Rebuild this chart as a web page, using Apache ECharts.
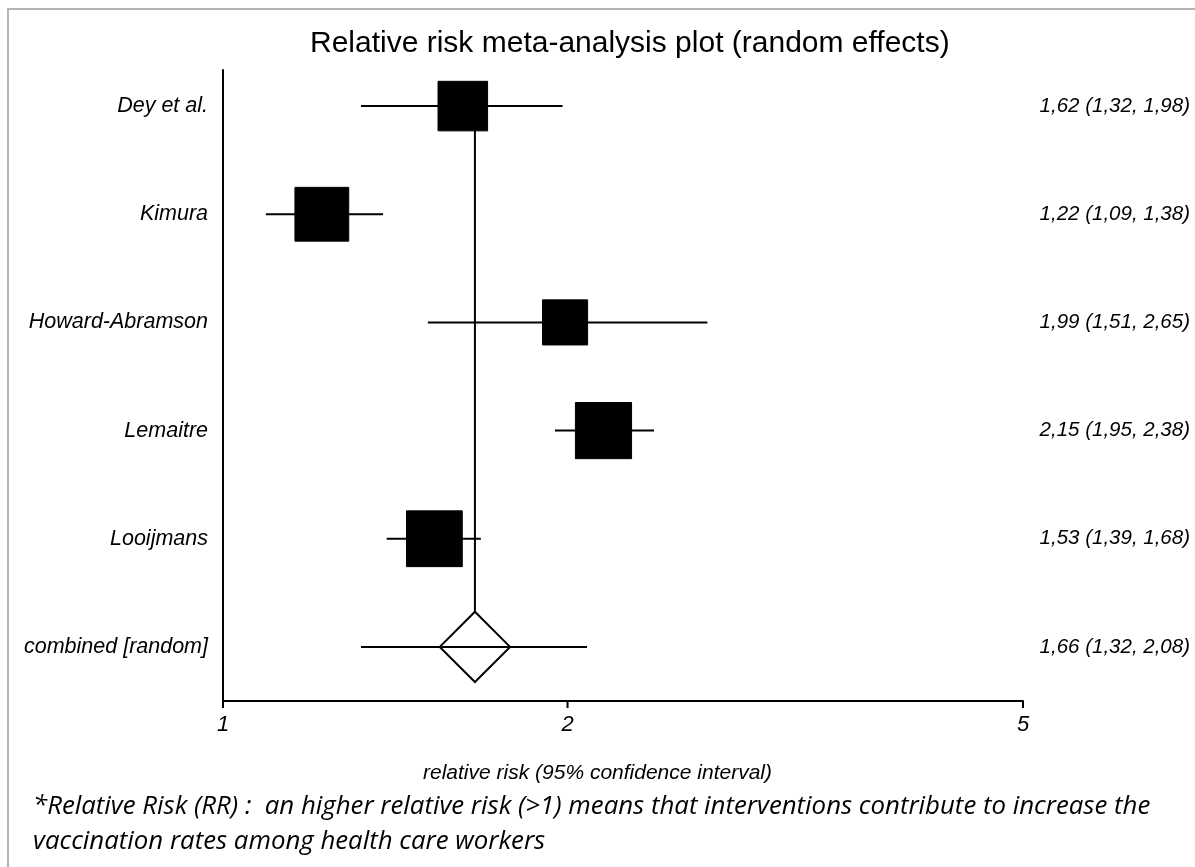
<!DOCTYPE html>
<html>
<head>
<meta charset="utf-8">
<script src="https://cdn.jsdelivr.net/npm/echarts@6/dist/echarts.min.js"></script>
<style>
  html, body { margin: 0; padding: 0; background: #fff; }
  #forestPlot { width: 1195px; height: 867px; }
</style>
</head>
<body>
<div id="forestPlot"></div>
<script>
// study data
var studyNames = ['Dey et al.', 'Kimura', 'Howard-Abramson', 'Lemaitre', 'Looijmans', 'combined [random]'];
var rrValues = [1.62, 1.22, 1.99, 2.15, 1.53, 1.66];
var ciLower = [1.32, 1.09, 1.51, 1.95, 1.39, 1.32];
var ciUpper = [1.98, 1.38, 2.65, 2.38, 1.68, 2.08];
// relative weights (%) - size of the squares, null for the pooled row
var studyWeights = [18.0, 21.2, 14.9, 23.1, 22.8, null];
var tickValues = [1, 2, 5];

var helv = '"Liberation Sans", Arial, Helvetica, sans-serif';

function fmt(v) {
	return v.toFixed(2).replace('.', ',');
}

var ciLabels = [];
var rowData = [];
for (var i = 0; i < studyNames.length; i++) {
	ciLabels.push(fmt(rrValues[i]) + ' (' + fmt(ciLower[i]) + ', ' + fmt(ciUpper[i]) + ')');
	rowData.push([i, rrValues[i], ciLower[i], ciUpper[i], studyWeights[i]]);
}

var myChart = echarts.init(document.getElementById('forestPlot'));

function renderRow(params, api) {
	var row = api.value(0);
	var mid = api.coord([api.value(1), row]);
	var lo = api.coord([api.value(2), row]);
	var hi = api.coord([api.value(3), row]);
	var band = api.size([1, 1])[1];
	var w = api.value(4);
	var children = [];
	var ciLine = {
		type: 'line',
		shape: { x1: lo[0], y1: mid[1], x2: hi[0], y2: mid[1] },
		style: { stroke: '#000', lineWidth: 2 }
	};
	if (w != null && !isNaN(w)) {
		var side = Math.sqrt(w / 100) * band * 1.08;
		children.push(ciLine);
		children.push({
			type: 'rect',
			shape: { x: mid[0] - side / 2, y: mid[1] - side / 2, width: side, height: side },
			style: { fill: '#000', stroke: '#000', lineWidth: 1 }
		});
	} else {
		var half = band * 0.325;
		var cs = params.coordSys;
		var firstRowY = api.coord([1, 0])[1];
		var axisTop = firstRowY - band * 0.34;
		// vertical line at the pooled estimate (behind the boxes)
		children.push({
			type: 'line',
			shape: { x1: mid[0], y1: firstRowY, x2: mid[0], y2: mid[1] - half },
			style: { stroke: '#000', lineWidth: 2 }
		});
		// left axis line
		children.push({
			type: 'line',
			shape: { x1: cs.x, y1: axisTop, x2: cs.x, y2: cs.y + cs.height },
			style: { stroke: '#000', lineWidth: 2 }
		});
		children.push({
			type: 'polygon',
			shape: { points: [[mid[0] - half, mid[1]], [mid[0], mid[1] - half], [mid[0] + half, mid[1]], [mid[0], mid[1] + half]] },
			style: { fill: '#fff', stroke: '#000', lineWidth: 2 }
		});
		children.push(ciLine);
	}
	return { type: 'group', children: children };
}

function renderTick(params, api) {
	var cs = params.coordSys;
	var x = api.coord([api.value(0), 0])[0];
	var bottom = cs.y + cs.height;
	return {
		type: 'group',
		children: [
			{ type: 'line', shape: { x1: x, y1: bottom, x2: x, y2: bottom + 7 }, style: { stroke: '#000', lineWidth: 2 } },
			{ type: 'text', style: { x: x, y: bottom + 13, text: String(api.value(0)), textAlign: 'center', textVerticalAlign: 'top', font: 'italic 22px ' + helv, fill: '#000' } }
		]
	};
}

var option = {
	backgroundColor: '#fff',
	animation: false,
	title: [
		{
			text: 'Relative risk meta-analysis plot (random effects)',
			left: 305,
			top: 24,
			textStyle: { fontFamily: helv, fontSize: 30, fontWeight: 'normal', color: '#000' }
		},
		{
			text: 'relative risk (95% confidence interval)',
			left: 418,
			top: 758,
			textStyle: { fontFamily: helv, fontSize: 21, fontStyle: 'italic', fontWeight: 'normal', color: '#000' }
		},
		{
			text: '*Relative Risk (RR) :  an higher relative risk (>1) means that interventions contribute to increase the\nvaccination rates among health care workers',
			left: 28,
			top: 784,
			textStyle: { fontFamily: '"Open Sans", Lato, sans-serif', fontSize: 25.8, fontStyle: 'italic', fontWeight: 'normal', color: '#000', lineHeight: 35 }
		}
	],
	graphic: [
		{ type: 'line', shape: { x1: 7, y1: 9, x2: 1195, y2: 9 }, style: { stroke: '#b4b4b4', lineWidth: 2 } },
		{ type: 'line', shape: { x1: 8, y1: 9, x2: 8, y2: 867 }, style: { stroke: '#b4b4b4', lineWidth: 2 } }
	],
	grid: { left: 223, right: 172, top: 52, bottom: 166 },
	xAxis: {
		type: 'log',
		logBase: 10,
		min: 1,
		max: 5,
		axisLine: { show: true, lineStyle: { color: '#000', width: 2 } },
		axisTick: { show: false },
		axisLabel: { show: false },
		splitLine: { show: false }
	},
	yAxis: [
		{
			type: 'category',
			data: studyNames,
			inverse: true,
			axisLine: { show: false },
			axisTick: { show: false },
			axisLabel: { margin: 15, fontFamily: helv, fontSize: 21.5, fontStyle: 'italic', color: '#000' }
		},
		{
			type: 'category',
			data: ciLabels,
			inverse: true,
			position: 'right',
			axisLine: { show: false },
			axisTick: { show: false },
			axisLabel: { margin: 167, align: 'right', fontFamily: helv, fontSize: 20.5, fontStyle: 'italic', color: '#000' }
		}
	],
	series: [
		{
			name: 'studies',
			type: 'custom',
			renderItem: renderRow,
			encode: { x: [1, 2, 3], y: 0 },
			data: rowData,
			clip: false,
			silent: true
		},
		{
			name: 'ticks',
			type: 'custom',
			renderItem: renderTick,
			encode: { x: 0 },
			data: tickValues.map(function (v) { return [v]; }),
			clip: false,
			silent: true
		}
	]
};
myChart.setOption(option);
</script>
</body>
</html>
